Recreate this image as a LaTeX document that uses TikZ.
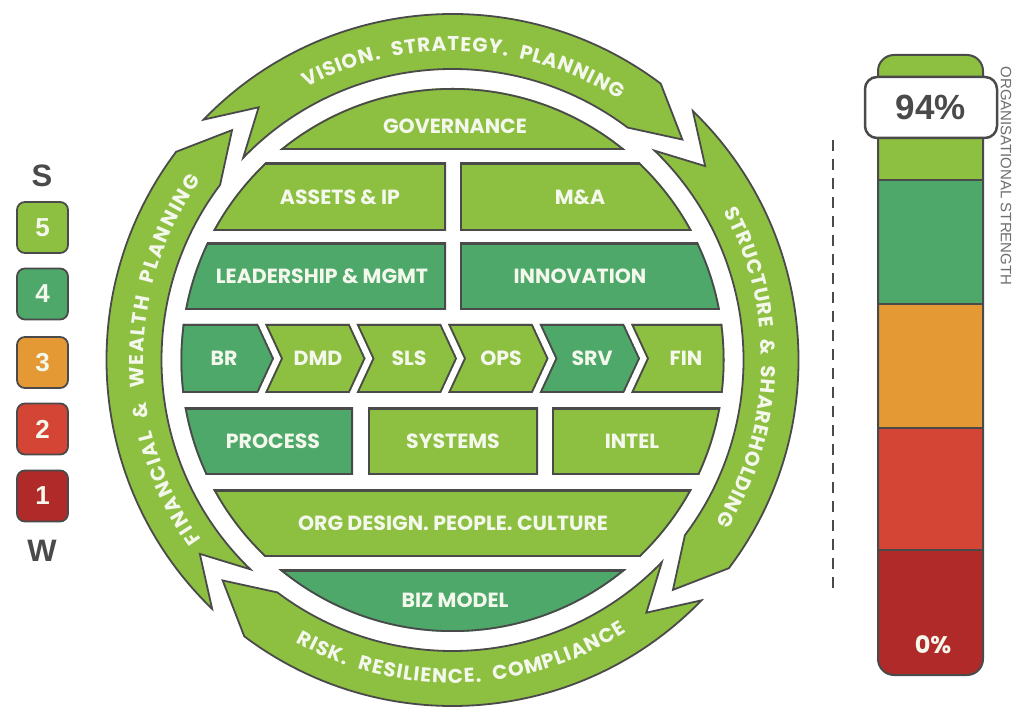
\documentclass[tikz,border=0pt]{standalone}
\usepackage{fontspec}
\setmainfont{Poppins}
\newfontfamily\arialf{Liberation Sans}
\definecolor{lg}{HTML}{8DBF41}
\definecolor{dg}{HTML}{4DA86A}
\definecolor{og}{HTML}{E59934}
\definecolor{rd}{HTML}{D44535}
\definecolor{dr}{HTML}{B02A2A}
\definecolor{ol}{HTML}{4A4A4A}
\definecolor{tx}{HTML}{F4F8EC}
\definecolor{gt}{HTML}{6E6E6E}
\newcommand\ringfont{\fontsize{20}{20}\selectfont\bfseries}
% #1 centre angle, #2 baseline radius, #3 sign (1: clockwise, tops outward; -1: anticlockwise, tops inward), #4 id, #5 tracking, #6 characters
\newcommand\arctext[6]{%
  \begingroup
  \ringfont
  \gdef\atw{0}%
  \foreach \ach in {#6}{\pgfmathwidth{"\ach"}\pgfmathparse{\atw+\pgfmathresult+#5}\xdef\atw{\pgfmathresult}}%
  \gdef\aacc{0}%
  \foreach \ach [count=\ai] in {#6}{%
    \pgfmathwidth{"\ach"}\pgfmathparse{\pgfmathresult+#5}\let\acw\pgfmathresult
    \pgfmathparse{#1+(#3)*(\atw/2-\aacc-\acw/2)/(#2)*57.29578}\let\atth\pgfmathresult
    \pgfmathparse{\atth-(#3)*90}\let\arot\pgfmathresult
    \node[text=tx, inner sep=0pt, anchor=base, rotate=\arot] (#4\ai) at (\atth:#2) {\ach};
    \pgfmathparse{\aacc+\acw}\xdef\aacc{\pgfmathresult}%
  }%
  \endgroup}
\newcommand\diskpart[2]{%
  \begin{scope}
    \clip (-2.5,0) circle[radius=272];
    \clip #2;
    \fill[#1] #2;
    \draw[ol, line width=3.6] (-2.5,0) circle[radius=272];
    \draw[ol, line width=3.6, line join=miter] #2;
  \end{scope}}
\tikzset{
  lbl/.style={text=tx, font=\fontsize{20.5}{20.5}\selectfont\bfseries, inner sep=0pt},
  ringarrow/.style={fill=lg, draw=ol, line width=1.8, line join=miter},
  legbox/.style={draw=ol, line width=1.8, rounded corners=8, minimum width=51pt, minimum height=51pt, inner sep=0pt,
     text=tx, font=\arialf\fontsize{26}{26}\selectfont\bfseries},
  legletter/.style={text=ol, font=\arialf\fontsize{31}{31}\selectfont\bfseries, inner sep=0pt}
}
\begin{document}
\begin{tikzpicture}[x=1pt,y=1pt]
\useasboundingbox (0,0) rectangle (1024,725);
\fill[white] (0,0) rectangle (1024,725);

% ---------------- outer ring of arrows ----------------
\begin{scope}[shift={(452.5,365)}]
  \def\ri{291}\def\ro{346}\def\rm{318.5}
  \foreach \ja in {139.5,49.5,-40.5,-130.5} {
    \pgfmathsetmacro\jb{\ja-90}
    \filldraw[ringarrow]
      ({\ja-3.5}:\ro) arc[start angle=\ja-3.5, end angle=\jb+3.5, radius=\ro]
      -- ({\jb-5.7}:\rm) -- ({\jb+3.5}:\ri)
      arc[start angle=\jb+3.5, end angle=\ja-3.5, radius=\ri]
      -- ({\ja-12}:\rm) -- cycle;
  }
  \arctext{87.8}{309}{1}{vt}{0.9}{V,I,S,I,O,N,.,{\ },{\ },S,T,R,A,T,E,G,Y,.,{\ },{\ },P,L,A,N,N,I,N,G}
  \arctext{-1.5}{309}{1}{st}{0.8}{S,T,R,U,C,T,U,R,E,{\ },{\ },\&,{\ },{\ },S,H,A,R,E,H,O,L,D,I,N,G}
  \arctext{-88.2}{323}{-1}{rk}{1.1}{R,I,S,K,.,{\ },{\ },R,E,S,I,L,I,E,N,C,E,.,{\ },{\ },C,O,M,P,L,I,A,N,C,E}
  \arctext{180}{309}{1}{fw}{1.7}{F,I,N,A,N,C,I,A,L,{\ },{\ },\&,{\ },{\ },W,E,A,L,T,H,{\ },{\ },P,L,A,N,N,I,N,G}
\end{scope}

% ---------------- central disc ----------------
\begin{scope}[shift={(455,365)}]
  \diskpart{lg}{(-300,210) rectangle (300,300)}
  \diskpart{lg}{(-300,129) rectangle (-9,197)}
  \diskpart{lg}{(5,129) rectangle (300,197)}
  \diskpart{dg}{(-300,50) rectangle (-9,117)}
  \diskpart{dg}{(5,50) rectangle (300,117)}
  % chevrons
  \diskpart{dg}{(-300,36) -- (-197,36) -- (-181,1.5) -- (-197,-33) -- (-300,-33) -- cycle}
  \diskpart{lg}{(-190,36) -- (-105.5,36) -- (-89.5,1.5) -- (-105.5,-33) -- (-190,-33) -- (-174,1.5) -- cycle}
  \diskpart{lg}{(-98.5,36) -- (-14,36) -- (2,1.5) -- (-14,-33) -- (-98.5,-33) -- (-82.5,1.5) -- cycle}
  \diskpart{lg}{(-7,36) -- (77.5,36) -- (93.5,1.5) -- (77.5,-33) -- (-7,-33) -- (9,1.5) -- cycle}
  \diskpart{dg}{(84.5,36) -- (169,36) -- (185,1.5) -- (169,-33) -- (84.5,-33) -- (100.5,1.5) -- cycle}
  \diskpart{lg}{(176,36) -- (300,36) -- (300,-33) -- (176,-33) -- (192,1.5) -- cycle}
  \diskpart{dg}{(-300,-115) rectangle (-102,-48)}
  \diskpart{lg}{(-87,-115) rectangle (83,-48)}
  \diskpart{lg}{(97,-115) rectangle (300,-48)}
  \diskpart{lg}{(-300,-197) rectangle (300,-130)}
  \diskpart{dg}{(-300,-300) rectangle (300,-210)}

  \node[lbl] (gov) at (0,234) {GOVERNANCE};
  \node[lbl] (assets) at (-115,163) {ASSETS \& IP};
  \node[lbl] (ma) at (125,163) {M\&A};
  \node[lbl] (lead) at (-133,83.5) {LEADERSHIP \& MGMT};
  \node[lbl] (innov) at (125,83.5) {INNOVATION};
  \node[lbl] (br) at (-231,1.5) {BR};
  \node[lbl] (dmd) at (-137,1.5) {DMD};
  \node[lbl] (sls) at (-46,1.5) {SLS};
  \node[lbl] (ops) at (46,1.5) {OPS};
  \node[lbl] (srv) at (137,1.5) {SRV};
  \node[lbl] (fin) at (231,1.5) {FIN};
  \node[lbl] (proc) at (-182,-81.5) {PROCESS};
  \node[lbl] (sys) at (-2,-81.5) {SYSTEMS};
  \node[lbl] (intel) at (177,-81.5) {INTEL};
  \node[lbl] (org) at (-2,-163.5) {ORG DESIGN. PEOPLE. CULTURE};
  \node[lbl] (biz) at (0,-240) {BIZ MODEL};
\end{scope}

% ---------------- legend ----------------
\node[legletter] (S) at (42,549) {S};
\node[legbox, fill=lg] (l5) at (42.5,497.5) {5};
\node[legbox, fill=dg] (l4) at (42.5,431) {4};
\node[legbox, fill=og] (l3) at (42.5,362.5) {3};
\node[legbox, fill=rd] (l2) at (42.5,296) {2};
\node[legbox, fill=dr] (l1) at (42.5,229) {1};
\node[legletter] (W) at (42,174) {W};

% ---------------- strength bar ----------------
\coordinate (dtop) at (833,585);
\coordinate (dbot) at (833,130);
\draw[ol, line width=2.5, dash pattern=on 11pt off 8pt] (dtop) -- (dbot);
\begin{scope}
  \clip[rounded corners=16] (878,50) rectangle (983,670);
  \fill[lg] (878,545) rectangle (983,670);
  \fill[dg] (878,421) rectangle (983,545);
  \fill[og] (878,297) rectangle (983,421);
  \fill[rd] (878,175) rectangle (983,297);
  \fill[dr] (878,50) rectangle (983,175);
  \draw[ol, line width=2] (878,545) -- (983,545);
  \draw[ol, line width=2] (878,421) -- (983,421);
  \draw[ol, line width=2] (878,297) -- (983,297);
  \draw[ol, line width=2] (878,175) -- (983,175);
\end{scope}
\draw[ol, line width=2, rounded corners=16] (878,50) rectangle (983,670);
\node[draw=ol, fill=white, line width=2.5, rounded corners=12, minimum width=132pt, minimum height=61pt, inner sep=0pt,
      text=ol, font=\arialf\fontsize{35}{35}\selectfont\bfseries] (pct) at (931,617.5) {94\%};
\node[text=tx, font=\fontsize{24}{24}\selectfont\bfseries, inner sep=0pt] (zero) at (933,80) {0\%};
\node[rotate=-90, text=gt, font=\arialf\fontsize{15}{15}\selectfont, inner sep=0pt] (orgstr) at (1006,549) {ORGANISATIONAL STRENGTH};
\end{tikzpicture}
\end{document}
